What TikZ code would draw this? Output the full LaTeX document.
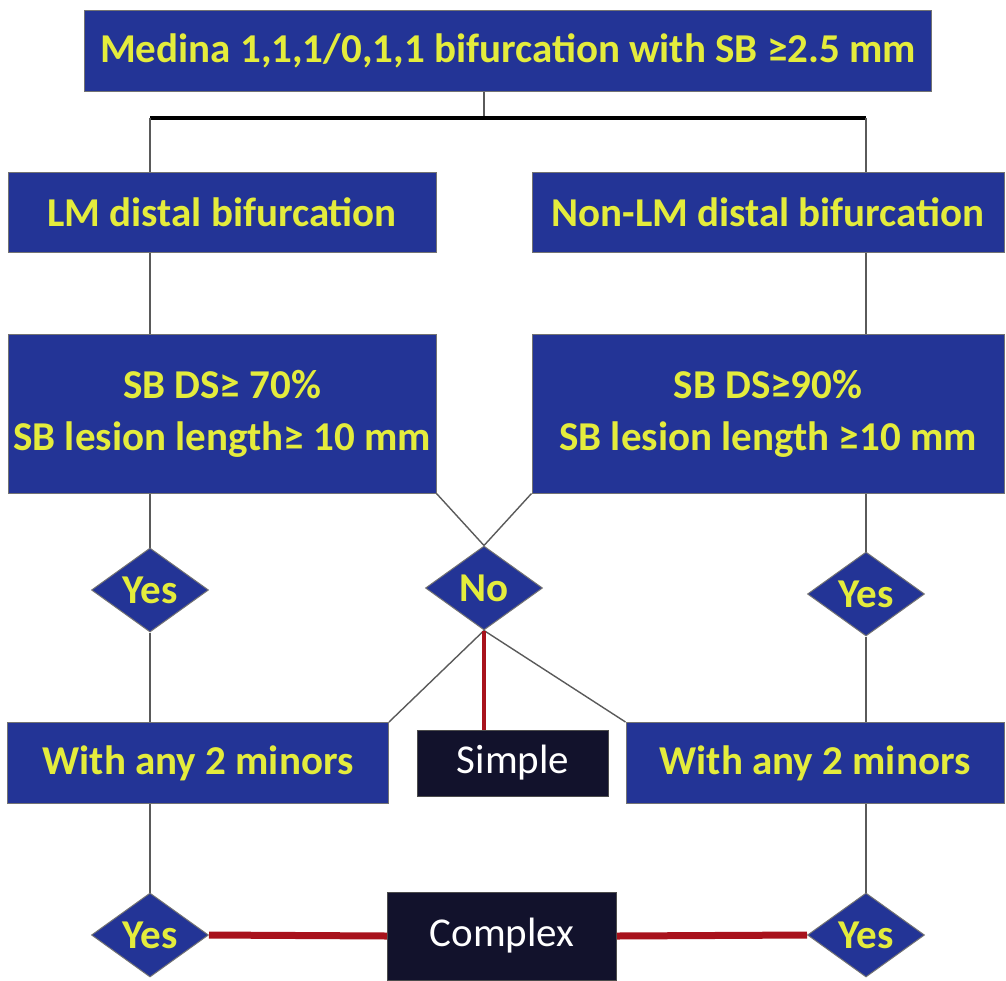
\documentclass[tikz,border=0pt]{standalone}
\usepackage{fontspec}
\setmainfont{Carlito}
\usepackage{tikz}
\usetikzlibrary{shapes.geometric,positioning,calc}
\definecolor{boxblue}{RGB}{35,52,150}
\definecolor{textyellow}{RGB}{228,236,60}
\definecolor{darknavy}{RGB}{18,18,44}
\definecolor{linkred}{RGB}{168,18,28}
\definecolor{linkgrey}{RGB}{90,90,90}

\tikzset{
  bluebox/.style={draw=black!55, line width=1pt, fill=boxblue, text=textyellow, inner sep=0pt, align=center, font=\fontsize{41}{52}\selectfont\bfseries},
  navybox/.style={draw=black!70, line width=1pt, fill=darknavy, text=white, inner sep=0pt, font=\fontsize{41}{52}\selectfont},
  decide/.style={diamond, draw=black!55, line width=1pt, fill=boxblue, text=textyellow, inner sep=0pt, aspect=1.4, minimum width=117pt, minimum height=84pt, font=\fontsize{41}{52}\selectfont\bfseries},
  thinlink/.style={draw=linkgrey, line width=1.4pt},
  redlink/.style={draw=linkred, line width=4pt},
  fatredlink/.style={draw=linkred, line width=7pt}
}

\begin{document}
\begin{tikzpicture}[x=1pt,y=-1pt]
    \useasboundingbox (0,0) rectangle (1006,980);

    % boxes
    \node[bluebox, minimum width=847pt, minimum height=81pt] (top) at (508,50.5) {Medina 1,1,1/0,1,1 bifurcation with SB ≥2.5 mm};
    \node[bluebox, minimum width=428pt, minimum height=80pt] (lm) at (222,212) {LM distal bifurcation};
    \node[bluebox, minimum width=472pt, minimum height=80pt] (nonlm) at (768,212) {Non-LM distal bifurcation};
    \node[bluebox, minimum width=428pt, minimum height=159pt] (sbl) at (222,413.5) {SB DS≥ 70\%\\SB lesion length≥ 10 mm};
    \node[bluebox, minimum width=472pt, minimum height=159pt] (sbr) at (768,413.5) {SB DS≥90\%\\SB lesion length ≥10 mm};

    \node[decide] (yesl) at (150,590) {Yes};
    \node[decide] (no) at (484,588) {No};
    \node[decide] (yesr) at (866,594) {Yes};

    \node[bluebox, minimum width=381pt, minimum height=81pt] (withl) at (198,763) {With any 2 minors};
    \node[navybox, minimum width=191pt, minimum height=66pt] (simple) at (513,763) {Simple};
    \node[bluebox, minimum width=378pt, minimum height=81pt] (withr) at (815,763) {With any 2 minors};

    \node[decide] (yesbl) at (150,935) {Yes};
    \node[navybox, minimum width=229pt, minimum height=88pt] (complex) at (502,936) {Complex};
    \node[decide] (yesbr) at (866,935) {Yes};

    % split under the top box
    \coordinate (barl) at (150,118);
    \coordinate (barm) at (484,118);
    \coordinate (barr) at (866,118);
    \draw[thinlink] (barm |- top.south) -- (barm);
    \draw[line width=4pt] (barl) -- (barr);
    \draw[thinlink] (barl) -- (barl |- lm.north);
    \draw[thinlink] (barr) -- (barr |- nonlm.north);

    % left and right lanes
    \draw[thinlink] (barl |- lm.south) -- (barl |- sbl.north);
    \draw[thinlink] (barr |- nonlm.south) -- (barr |- sbr.north);
    \draw[thinlink] (yesl.north |- sbl.south) -- (yesl.north);
    \draw[thinlink] (yesr.north |- sbr.south) -- (yesr.north);
    \draw[thinlink] (yesl.south) -- (yesl.south |- withl.north);
    \draw[thinlink] (yesr.south) -- (yesr.south |- withr.north);
    \draw[thinlink] (yesbl.north |- withl.south) -- (yesbl.north);
    \draw[thinlink] (yesbr.north |- withr.south) -- (yesbr.north);

    % the cross into No and out of it
    \draw[thinlink] (sbl.south east) -- (no.north);
    \draw[thinlink] (sbr.south west) -- (no.north);
    \draw[thinlink] (no.south) -- (withl.north east);
    \draw[thinlink] (no.south) -- (withr.north west);
    \draw[redlink] (no.south) -- (no.south |- simple.north);

    % to complex
    \draw[fatredlink] (yesbl.east) -- (complex.west);
    \draw[fatredlink] (complex.east) -- (yesbr.west);
\end{tikzpicture}
\end{document}
